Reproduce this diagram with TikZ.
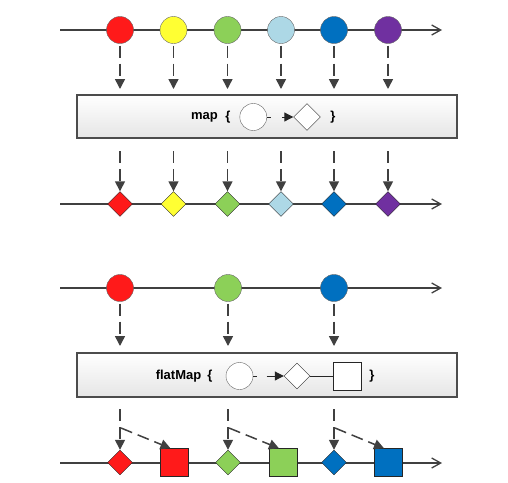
\documentclass[tikz,border=0pt]{standalone}
\usepackage{fontspec}
\setmainfont{Liberation Sans}
\usetikzlibrary{shapes.geometric, arrows.meta, positioning}
\definecolor{mred}{RGB}{255,26,26}
\definecolor{myellow}{RGB}{255,255,51}
\definecolor{mgreen}{RGB}{140,208,88}
\definecolor{mlight}{RGB}{173,216,230}
\definecolor{mblue}{RGB}{0,112,192}
\definecolor{mpurple}{RGB}{112,48,160}
\tikzstyle{ball} = [circle, draw=black!60, minimum size=27pt, inner sep=0pt]
\tikzstyle{gem} = [diamond, draw=black!85, minimum size=25pt, inner sep=0pt]
\tikzstyle{tile} = [rectangle, draw=black!85, minimum size=28pt, inner sep=0pt]
\tikzstyle{opbox} = [rectangle, draw=black!70, line width=2pt, top color=white, bottom color=black!10, minimum width=380pt, minimum height=43pt]
\tikzstyle{optext} = [font=\bfseries\fontsize{13}{13}\selectfont, inner sep=0pt]
\tikzstyle{axis} = [draw=black!75, line width=1.3pt, -{Straight Barb[length=9pt,width=10pt]}]
\tikzstyle{drop} = [draw=black!75, line width=1.5pt, dash pattern=on 12pt off 6pt, -{Triangle[length=10pt,width=10pt]}]
\tikzstyle{inner} = [draw=black!85, line width=1pt, -{Triangle[length=9pt,width=9pt]}]

\begin{document}
\begin{tikzpicture}[x=1pt, y=-1pt]
        \useasboundingbox (0,0) rectangle (508,482);

        % time lines
        \coordinate (a1) at (60,30);   \coordinate (b1) at (442,30);
        \coordinate (a2) at (60,204);  \coordinate (b2) at (442,204);
        \coordinate (a3) at (60,288);  \coordinate (b3) at (442,288);
        \coordinate (a4) at (60,463);  \coordinate (b4) at (442,463);
        \path [axis] (a1) -- (b1);
        \path [axis] (a2) -- (b2);
        \path [axis] (a3) -- (b3);
        \path [axis] (a4) -- (b4);

        % map
        \node (c1) [ball, fill=mred] at (120,30) {};
        \node (c2) [ball, fill=myellow] at (173.5,30) {};
        \node (c3) [ball, fill=mgreen] at (227.5,30) {};
        \node (c4) [ball, fill=mlight] at (281,30) {};
        \node (c5) [ball, fill=mblue] at (334,30) {};
        \node (c6) [ball, fill=mpurple] at (388,30) {};
        \node (mbox) [opbox] at (267,116.5) {};
        \node (mname) [optext] at (204.5,117) {map};
        \node (mopen) [optext] at (228,117) {\{};
        \node (mc) [ball, fill=white] at (253.3,117) {};
        \node (md) [gem, fill=white, minimum size=27pt] at (307,117) {};
        \node (mclose) [optext] at (333,117) {\}};
        \node (d1) [gem, fill=mred] at (120,204) {};
        \node (d2) [gem, fill=myellow] at (173.5,204) {};
        \node (d3) [gem, fill=mgreen] at (227.5,204) {};
        \node (d4) [gem, fill=mlight] at (281,204) {};
        \node (d5) [gem, fill=mblue] at (334,204) {};
        \node (d6) [gem, fill=mpurple] at (388,204) {};

        % flatMap
        \node (f1) [ball, fill=mred] at (120,288) {};
        \node (f2) [ball, fill=mgreen] at (228,288) {};
        \node (f3) [ball, fill=mblue] at (334,288) {};
        \node (fbox) [opbox, minimum height=44pt] at (267,375) {};
        \node (fname) [optext] at (178.5,376) {flatMap};
        \node (fopen) [optext] at (210,376) {\{};
        \node (fc) [ball, fill=white] at (239.5,376) {};
        \node (fd) [gem, fill=white, minimum size=26pt] at (297,376) {};
        \node (fs) [tile, fill=white] at (347,376) {};
        \node (fclose) [optext] at (372,376) {\}};
        \node (e1) [gem, fill=mred] at (120,462.5) {};
        \node (e2) [gem, fill=mgreen] at (228,462.5) {};
        \node (e3) [gem, fill=mblue] at (334,462.5) {};
        \node (s1) [tile, fill=mred] at (174.5,462.5) {};
        \node (s2) [tile, fill=mgreen] at (283,462.5) {};
        \node (s3) [tile, fill=mblue] at (388,462.5) {};
        \coordinate (k1) at (121,428);
        \coordinate (k2) at (229,428);
        \coordinate (k3) at (335,428);

        % Draw edges
        \path [drop, shorten <=2pt, shorten >=5pt] (c1) -- (c1 |- mbox.north);
        \path [drop, shorten <=2pt, shorten >=5pt] (c2) -- (c2 |- mbox.north);
        \path [drop, shorten <=2pt, shorten >=5pt] (c3) -- (c3 |- mbox.north);
        \path [drop, shorten <=2pt, shorten >=5pt] (c4) -- (c4 |- mbox.north);
        \path [drop, shorten <=2pt, shorten >=5pt] (c5) -- (c5 |- mbox.north);
        \path [drop, shorten <=2pt, shorten >=5pt] (c6) -- (c6 |- mbox.north);
        \path [drop, shorten <=12pt] (d1 |- mbox.south) -- (d1);
        \path [drop, shorten <=12pt] (d2 |- mbox.south) -- (d2);
        \path [drop, shorten <=12pt] (d3 |- mbox.south) -- (d3);
        \path [drop, shorten <=12pt] (d4 |- mbox.south) -- (d4);
        \path [drop, shorten <=12pt] (d5 |- mbox.south) -- (d5);
        \path [drop, shorten <=12pt] (d6 |- mbox.south) -- (d6);
        \path [inner, dash pattern=on 4pt off 11pt on 30pt] (mc) -- (md);

        \path [drop, shorten <=2pt, shorten >=6pt] (f1) -- (f1 |- fbox.north);
        \path [drop, shorten <=2pt, shorten >=6pt] (f2) -- (f2 |- fbox.north);
        \path [drop, shorten <=2pt, shorten >=6pt] (f3) -- (f3 |- fbox.north);
        \path [inner, dash pattern=on 3.5pt off 10pt on 30pt] (fc) -- (fd);
        \draw [draw=black!85, line width=1pt] (fd) -- (fs);
        \path [drop, shorten <=11pt] (e1 |- fbox.south) -- (e1);
        \path [drop, shorten <=11pt] (e2 |- fbox.south) -- (e2);
        \path [drop, shorten <=11pt] (e3 |- fbox.south) -- (e3);
        \path [drop] (k1) -- ([xshift=-4pt]s1.north);
        \path [drop] (k2) -- ([xshift=-4pt]s2.north);
        \path [drop] (k3) -- ([xshift=-4pt]s3.north);

\end{tikzpicture}
\end{document}
